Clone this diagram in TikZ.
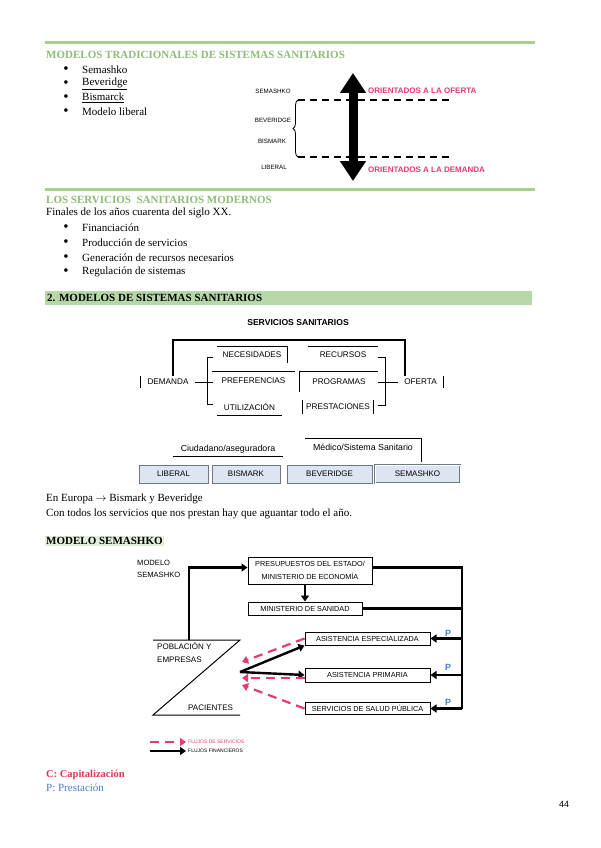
\documentclass[tikz,border=0pt]{standalone}
\usepackage{fontspec}
\setmainfont{Liberation Serif}
\newfontfamily\arialf{Liberation Sans}
\usetikzlibrary{arrows.meta,decorations.pathreplacing,calc}
\definecolor{gline}{RGB}{168,208,141}
\definecolor{gtext}{RGB}{140,190,118}
\definecolor{gbar}{RGB}{182,215,168}
\definecolor{ghigh}{RGB}{226,239,217}
\definecolor{pinkc}{RGB}{228,58,120}
\definecolor{boxblue}{RGB}{220,230,242}
\definecolor{boxedge}{RGB}{110,120,130}
\definecolor{cred}{RGB}{215,55,80}
\definecolor{pblue}{RGB}{70,130,200}
\begin{document}
\begin{tikzpicture}[x=1pt,y=-1pt,
  body/.style={anchor=west,inner sep=0pt,font=\fontsize{11}{13}\selectfont},
  gtitle/.style={anchor=west,inner sep=0pt,text=gtext,font=\bfseries\fontsize{11}{13}\selectfont},
  bul/.style={inner sep=0pt,font=\fontsize{15}{15}\selectfont},
  lab/.style={inner sep=0pt,font=\arialf\fontsize{6.2}{7}\selectfont},
  orient/.style={anchor=west,inner sep=0pt,text=pinkc,font=\arialf\bfseries\fontsize{8}{9}\selectfont},
  sbox/.style={inner sep=0pt,font=\arialf\fontsize{8.2}{9}\selectfont},
  mbox/.style={inner sep=0pt,font=\arialf\fontsize{8.8}{10}\selectfont},
  thinl/.style={line width=0.9pt},
  modbox/.style={draw=boxedge,fill=boxblue,line width=0.8pt,inner sep=0pt,minimum height=18pt,font=\arialf\fontsize{8}{9}\selectfont},
  fbox/.style={draw,line width=1pt,inner sep=0pt,font=\arialf\fontsize{7.3}{13}\selectfont,align=center},
  fin/.style={line width=2.4pt,-{Triangle[length=6pt,width=8pt]}},
  finl/.style={line width=2.4pt},
  serv/.style={draw=pinkc,line width=2.2pt,dash pattern=on 9pt off 6pt,-{Triangle[length=6pt,width=8pt]}},
  dlab/.style={inner sep=0pt,anchor=west,font=\arialf\fontsize{8}{10}\selectfont},
  plab/.style={inner sep=0pt,text=pblue,font=\arialf\bfseries\fontsize{9}{10}\selectfont},
  leg/.style={inner sep=0pt,anchor=west,font=\arialf\fontsize{5}{6}\selectfont}
]
\fill[white] (0,0) rectangle (600,848);
\useasboundingbox (0,0) rectangle (600,848);

% ---------- Section 1 ----------
\draw[gline,line width=3pt] (45,43) -- (535,43);
\node[gtitle] (t1) at (46,55) {MODELOS TRADICIONALES DE SISTEMAS SANITARIOS};
\node[bul] (b1) at (66,70) {\textbullet};
\node[body] (i1) at (82,70) {Semashko};
\node[bul] (b2) at (66,84) {\textbullet};
\node[body] (i2) at (82,84) {\underline{Beveridge}};
\node[bul] (b3) at (66,98) {\textbullet};
\node[body] (i3) at (82,98) {\underline{Bismarck}};
\node[bul] (b4) at (66,112) {\textbullet};
\node[body] (i4) at (82,112) {Modelo liberal};

\node[lab] (lsem) at (273,91) {SEMASHKO};
\node[lab] (lbev) at (273,120) {BEVERIDGE};
\node[lab] (lbis) at (272,141) {BISMARK};
\node[lab] (llib) at (274,167) {LIBERAL};
\coordinate (dT1) at (298,100);
\coordinate (dT2) at (453,100);
\coordinate (dB1) at (298,157);
\coordinate (dB2) at (453,157);
\draw[line width=1.6pt,dash pattern=on 7pt off 5pt] (dT1) -- (dT2);
\draw[line width=1.6pt,dash pattern=on 7pt off 5pt] (dB1) -- (dB2);
\draw[line width=0.8pt,decorate,decoration={brace,amplitude=5pt}] (dB1) -- (dT1);
\coordinate (arT) at (353,73);
\coordinate (arB) at (353,181);
\draw[line width=9pt,{Triangle[length=20pt,width=25pt]}-{Triangle[length=20pt,width=25pt]}] (arT) -- (arB);
\node[orient] (oof) at (368,91) {ORIENTADOS A LA OFERTA};
\node[orient] (ode) at (368,170) {ORIENTADOS A LA DEMANDA};

% ---------- Section 2 ----------
\draw[gline,line width=3pt] (45,189) -- (535,189);
\node[gtitle] (t2) at (46,200) {LOS SERVICIOS \ SANITARIOS MODERNOS};
\node[body] (fin0) at (46,213) {Finales de los años cuarenta del siglo XX.};
\node[bul] (c1) at (66,228) {\textbullet};
\node[body] (j1) at (82,228) {Financiación};
\node[bul] (c2) at (66,243) {\textbullet};
\node[body] (j2) at (82,243) {Producción de servicios};
\node[bul] (c3) at (66,258) {\textbullet};
\node[body] (j3) at (82,258) {Generación de recursos necesarios};
\node[bul] (c4) at (66,272) {\textbullet};
\node[body] (j4) at (82,272) {Regulación de sistemas};

% ---------- Section 3 ----------
\fill[gbar] (45,291) rectangle (532,305);
\node[anchor=west,inner sep=0pt,font=\bfseries\fontsize{11}{13}\selectfont] (t3) at (47,298) {2. MODELOS DE SISTEMAS SANITARIOS};

\node[inner sep=0pt,font=\arialf\bfseries\fontsize{8.6}{10}\selectfont] (ss) at (298,323) {SERVICIOS SANITARIOS};

\node[sbox,minimum width=70pt,minimum height=16pt] (nec) at (252,355) {NECESIDADES};
\node[sbox,minimum width=70pt,minimum height=16pt] (rec) at (343,355) {RECURSOS};
\node[sbox,minimum width=83pt,minimum height=18pt] (pref) at (253.5,381) {PREFERENCIAS};
\node[sbox,minimum width=78pt,minimum height=20pt] (prog) at (339,382) {PROGRAMAS};
\node[sbox,minimum width=65pt,minimum height=16pt] (util) at (249.5,407) {UTILIZACIÓN};
\node[sbox,minimum width=70pt,minimum height=14pt] (prest) at (338,407) {PRESTACIONES};
\node[sbox,minimum width=54pt,minimum height=12pt] (dem) at (168,382) {DEMANDA};
\node[sbox,minimum width=45pt,minimum height=12pt] (ofe) at (420.5,382) {OFERTA};

\draw[thinl] (nec.north west) -- (nec.north east) -- (nec.south east);
\draw[thinl] (rec.north west) -- (rec.north east);
\draw[thinl] (pref.north west) -- (pref.north east);
\draw[thinl] (prog.south west) -- (prog.north west) -- (prog.north east);
\draw[thinl] (util.south west) -- (util.south east);
\draw[thinl] (prest.north west) -- (prest.south west);
\draw[thinl] (prest.north east) -- (prest.south east);
\draw[thinl] (dem.north west) -- (dem.south west);
\draw[thinl] (ofe.north east) -- (ofe.south east);

\coordinate (lbT) at (207,357);
\coordinate (lbB) at (207,404);
\draw[thinl] ($(lbT)+(6,0)$) -- (lbT) -- (lbB) -- ++(6,0);
\draw[thinl] (dem.east) -- ($(lbT |- dem.east)+(6,0)$);
\coordinate (rbT) at (385,357);
\coordinate (rbB) at (385,405);
\draw[thinl] ($(rbT)+(-7,0)$) -- (rbT) -- (rbB) -- ++(-7,0);
\draw[thinl] (prog.east) -- (ofe.west);
\draw[line width=1.5pt] ([xshift=5pt]dem.north) -- ++(0,-36) -| ([xshift=-15.5pt]ofe.north);

\node[mbox,minimum width=110pt,minimum height=14pt] (ciu) at (228,449) {Ciudadano/aseguradora};
\draw[thinl] (ciu.south west) -- (ciu.south east);
\node[mbox,minimum width=116pt,minimum height=16pt] (med) at (363,447) {Médico/Sistema Sanitario};
\draw[thinl] (med.north west) -- (med.north east) -- ++(0,23);

\node[modbox,minimum width=69pt] (mlib) at (173.5,474) {LIBERAL};
\node[modbox,minimum width=68pt] (mbis) at (246,474) {BISMARK};
\node[modbox,minimum width=85pt] (mbev) at (329.5,474) {BEVERIDGE};
\node[modbox,minimum width=85pt,double=white,double distance=1pt,line width=0.6pt] (msem) at (417.5,474) {SEMASHKO};

\node[body] (eu) at (46,499) {En Europa $\rightarrow$ Bismark y Beveridge};
\node[body] (con) at (46,514) {Con todos los servicios que nos prestan hay que aguantar todo el año.};
\node[anchor=west,inner sep=1pt,fill=ghigh,font=\bfseries\fontsize{11}{13}\selectfont] (t4) at (45,541) {MODELO SEMASHKO};

% ---------- Semashko diagram ----------
\node[anchor=north west,inner sep=0pt,align=left,font=\arialf\fontsize{7.6}{12}\selectfont] (msk) at (137,560) {MODELO\\SEMASHKO};
\node[fbox,minimum width=124pt,minimum height=27pt] (pres) at (310,570.5) {PRESUPUESTOS DEL ESTADO/\\MINISTERIO DE ECONOMÍA};
\node[fbox,minimum width=114pt,minimum height=13pt] (san) at (305,608.5) {MINISTERIO DE SANIDAD};
\node[fbox,minimum width=125pt,minimum height=13pt] (spec) at (367.5,638.5) {ASISTENCIA ESPECIALIZADA};
\node[fbox,minimum width=125pt,minimum height=14pt] (prim) at (367.5,675) {ASISTENCIA PRIMARIA};
\node[fbox,minimum width=125pt,minimum height=12pt] (salud) at (367.5,708.5) {SERVICIOS DE SALUD PÚBLICA};

\coordinate (pA) at (153,640);
\coordinate (pB) at (240,640);
\coordinate (pC) at (153,715);
\coordinate (pD) at (240,715);
\draw[line width=1pt] (pA) -- (pB) -- (pC) -- (pD);
\node[dlab] (pob1) at (157,646) {POBLACIÓN Y};
\node[dlab] (pob2) at (157,660) {EMPRESAS};
\node[dlab] (pac) at (188,708) {PACIENTES};

\coordinate (ptop) at (189,640);
\draw[fin] (ptop) |- ([yshift=3pt]pres.west);
\coordinate (vBot) at (462,708.5);
\draw[finl] ([yshift=3pt]pres.east) -| (vBot);
\draw[fin] (pres.south -| san.north) -- (san.north);
\draw[finl] (san.east) -- (san.east -| vBot);
\draw[fin] (spec.east -| vBot) -- (spec.east);
\draw[fin] (prim.east -| vBot) -- (prim.east);
\draw[fin] (vBot) -- (salud.east);
\node[plab] (p1) at (448,633) {P};
\node[plab] (p2) at (448,667) {P};
\node[plab] (p3) at (448,702) {P};

\coordinate (hub) at (240,672);
\draw[fin] (hub) -- (spec.south west);
\draw[fin] (hub) -- (prim.west);
\coordinate (s1) at (242,662);
\coordinate (s2) at (242,678);
\coordinate (s3) at (242,685);
\draw[serv] (spec.west) -- (s1);
\draw[serv] ([yshift=-3pt]prim.west) -- (s2);
\draw[serv] (salud.west) -- (s3);

\coordinate (lg1a) at (150,742);
\coordinate (lg1b) at (186,742);
\coordinate (lg2a) at (150,751);
\coordinate (lg2b) at (186,751);
\draw[serv,line width=2pt] (lg1a) -- (lg1b);
\draw[fin,line width=2pt] (lg2a) -- (lg2b);
\node[leg,text=pinkc] (lgt1) at (188,742) {FLUJOS DE SERVICIOS};
\node[leg] (lgt2) at (188,751) {FLUJOS FINANCIEROS};

\node[body,text=cred,font=\bfseries\fontsize{10.5}{12}\selectfont] (cc) at (46,775) {C: Capitalización};
\node[body,text=pblue] (pp) at (46,788) {P: Prestación};
\node[inner sep=0pt,font=\arialf\fontsize{9}{10}\selectfont] (pg) at (564,804) {44};
\end{tikzpicture}
\end{document}
